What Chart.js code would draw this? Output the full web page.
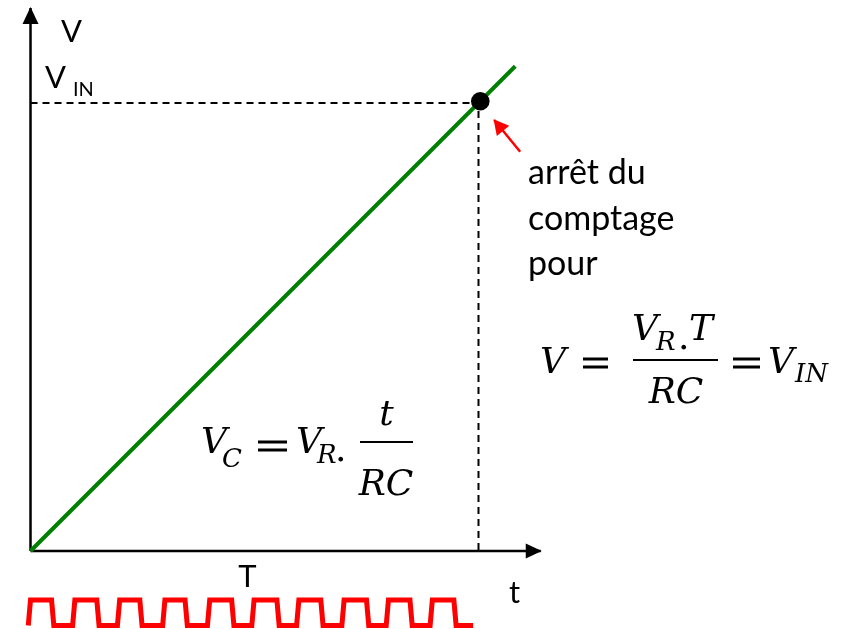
<!DOCTYPE html>
<html>
<head>
<meta charset="utf-8">
<script src="https://cdn.jsdelivr.net/npm/chart.js@4.4.1/dist/chart.umd.min.js"></script>
<style>
  html, body { margin: 0; padding: 0; background: #fff; }
  canvas { display: block; }
</style>
</head>
<body>
<canvas id="chart" width="851" height="629"></canvas>
<script>
// time unit = one clock period, voltage unit = V_IN / 10
const tStop = 10;          // counting stops after T = 10 periods
const vIn = 10;
const rampT = [0, 10.82];
const rampV = [0, 10.82];
const stopPoint = [10.04, 10.04];
const axisXEnd = 11.39;
const axisYEnd = 12.12;
const pointerFrom = [10.93, 8.91];
const pointerTo = [10.35, 9.62];

// clock: rising / falling edge times, end of trace, low & high level
const clockRise = [-0.05, 0.94, 1.94, 2.95, 3.95, 4.94, 5.94, 6.95, 7.94, 8.92];
const clockFall = [0.47, 1.48, 2.44, 3.45, 4.49, 5.50, 6.48, 7.50, 8.47, 9.45];
const clockEnd = 9.88;
const clockLow = -1.663;
const clockHigh = -1.094;
const edgeSlant = 0.05;

const clockPts = [];
clockRise.forEach((r, i) => {
    clockPts.push({ x: r, y: clockLow }, { x: r + edgeSlant, y: clockHigh });
    clockPts.push({ x: clockFall[i], y: clockHigh }, { x: clockFall[i] + edgeSlant, y: clockLow });
});
clockPts.push({ x: clockEnd, y: clockLow });

const arrowHeads = {
    id: 'arrowHeads',
    afterDatasetsDraw(chart) {
        const ctx = chart.ctx;
        chart.data.datasets.forEach((ds, i) => {
            if (!ds.arrowHead) return;
            const pts = chart.getDatasetMeta(i).data;
            const a = pts[pts.length - 2], b = pts[pts.length - 1];
            const ang = Math.atan2(b.y - a.y, b.x - a.x);
            const len = ds.arrowHead.len, half = ds.arrowHead.width / 2;
            ctx.save();
            ctx.translate(b.x, b.y);
            ctx.rotate(ang);
            ctx.beginPath();
            ctx.moveTo(1, 0);
            ctx.lineTo(-len, -half);
            ctx.lineTo(-len, half);
            ctx.closePath();
            ctx.fillStyle = ds.borderColor;
            ctx.fill();
            ctx.restore();
        });
    }
};

const labels = {
    id: 'labels',
    afterDraw(chart) {
        const ctx = chart.ctx;
        const put = (s, x, y, font, align) => {
            ctx.font = font;
            ctx.textAlign = align || 'left';
            ctx.textBaseline = 'alphabetic';
            ctx.fillText(s, x, y);
        };
        const bar = (x1, x2, y) => { ctx.fillRect(x1, y - 1, x2 - x1, 2); };
        const eq = (x1, x2, yc) => {
            ctx.fillRect(x1, yc - 5.5, x2 - x1, 3);
            ctx.fillRect(x1, yc + 2.5, x2 - x1, 3);
        };
        ctx.save();
        ctx.fillStyle = '#000';
        const sans = 'Lato';
        put('V', 61, 42, '31px ' + sans);
        put('V', 45, 88, '31px ' + sans);
        put('IN', 73, 96, '20px ' + sans);
        put('T', 247.5, 587, '31px ' + sans, 'center');
        put('t', 509, 603, '31px ' + sans);
        put('arrêt du', 528, 184, '34px ' + sans);
        put('comptage', 528, 229.5, '34px ' + sans);
        put('pour', 528, 275, '34px ' + sans);

        const mi = 'italic 36px "DejaVu Serif"';
        const ms = 'italic 26px "DejaVu Serif"';
        const mu = '36px "DejaVu Serif"';
        // V = VR.T / RC = VIN
        put('V', 540, 373, mi);
        eq(583, 608, 363);
        put('V', 632, 340, mi);
        put('R', 656, 350, ms);
        put('.', 678, 349, mu);
        put('T', 689, 340, mi);
        bar(633, 718, 360);
        put('RC', 676, 403, mi, 'center');
        eq(733, 760, 363);
        put('V', 768, 373, mi);
        put('IN', 795, 382, ms);
        // VC = VR . t / RC
        put('V', 201, 453, mi);
        put('C', 222, 467, ms);
        eq(258, 287, 446);
        put('V', 296, 453, mi);
        put('R', 317, 463, ms);
        put('.', 335, 461, mu);
        bar(360, 413, 442);
        put('t', 386.5, 425, mi, 'center');
        put('RC', 386, 495, mi, 'center');
        ctx.restore();
    }
};

new Chart(document.getElementById('chart'), {
    type: 'scatter',
    data: {
        datasets: [
            {   // stop point
                data: [{ x: stopPoint[0], y: stopPoint[1] }],
                pointRadius: 9.3, pointBackgroundColor: '#000', pointBorderWidth: 0,
                showLine: false
            },
            {   // red pointer
                data: [{ x: pointerFrom[0], y: pointerFrom[1] }, { x: pointerTo[0], y: pointerTo[1] }],
                borderColor: '#ff0000', borderWidth: 2.5, showLine: true, pointRadius: 0,
                arrowHead: { len: 14, width: 16 }
            },
            {   // capacitor voltage ramp
                data: rampT.map((t, i) => ({ x: t, y: rampV[i] })),
                borderColor: '#008000', borderWidth: 4, showLine: true, pointRadius: 0
            },
            {   // V_IN / T guides
                data: [{ x: 0, y: vIn }, { x: tStop, y: vIn }, { x: tStop, y: 0 }],
                borderColor: '#000', borderWidth: 2, borderDash: [7, 5],
                showLine: true, pointRadius: 0
            },
            {   // t axis
                data: [{ x: 0, y: 0 }, { x: axisXEnd, y: 0 }],
                borderColor: '#000', borderWidth: 2.5, showLine: true, pointRadius: 0,
                arrowHead: { len: 15, width: 15 }
            },
            {   // V axis
                data: [{ x: 0, y: 0 }, { x: 0, y: axisYEnd }],
                borderColor: '#000', borderWidth: 2.5, showLine: true, pointRadius: 0,
                arrowHead: { len: 16, width: 16 }
            },
            {   // clock
                data: clockPts,
                borderColor: '#ff0000', borderWidth: 5, showLine: true, pointRadius: 0,
                borderJoinStyle: 'miter'
            }
        ]
    },
    options: {
        responsive: false,
        animation: false,
        devicePixelRatio: 1,
        layout: { padding: 0, autoPadding: false },
        scales: {
            x: { type: 'linear', display: false, min: -0.681, max: 18.315 },
            y: { type: 'linear', display: false, min: -1.741, max: 12.299 }
        },
        plugins: { legend: { display: false }, tooltip: { enabled: false } }
    },
    plugins: [arrowHeads, labels]
});
</script>
</body>
</html>
